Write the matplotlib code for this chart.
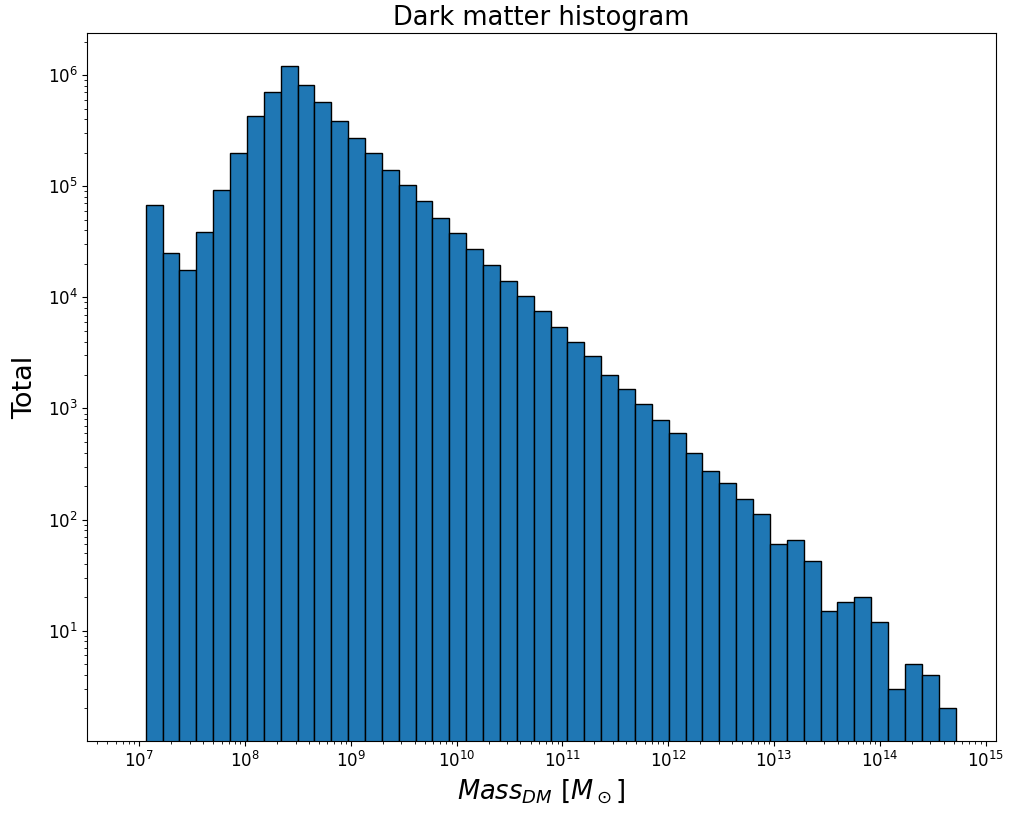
import numpy as np
import matplotlib
matplotlib.use("Agg")
import matplotlib.pyplot as plt

# masa minima / maxima (limites de los bins, log10)
LOG_MASA_MIN = 7.06
LOG_MASA_MAX = 14.716
N_BINS = 48

# cuentas por bin
conteos = [
    68000, 24800, 17600, 38400, 93000, 201000, 426000, 707000,
    1210000, 812000, 578000, 384000, 274000, 197000, 139000, 102000,
    73000, 52000, 38200, 27200, 19600, 13900, 10200, 7500,
    5400, 3980, 2940, 2020, 1490, 1090, 781, 596,
    399, 272, 215, 153, 113, 60, 66, 42,
    15, 18, 20, 12, 3, 5, 4, 2,
]

bordes = np.logspace(LOG_MASA_MIN, LOG_MASA_MAX, N_BINS + 1)
centros = np.sqrt(bordes[:-1] * bordes[1:])

fig = plt.figure(figsize=(10.10, 8.14), dpi=100)
ax = fig.add_axes([0.0864, 0.0893, 0.8996, 0.8702])

ax.hist(centros, bins=bordes, weights=conteos, log=True,
        color='#1f77b4', edgecolor='black', linewidth=1.0)
ax.set_xscale('log')
ax.set_xlim(10**6.508, 10**15.097)
ax.set_ylim(1.01, 10**6.379)

ax.set_title("Dark matter histogram", fontsize=18.5)
ax.set_xlabel(r"$Mass_{DM}\ [M_\odot]$", fontsize=18.5, labelpad=5)
ax.set_ylabel("Total", fontsize=19.5, labelpad=6.5)
ax.tick_params(axis='both', which='major', labelsize=12)

fig.savefig("out.png", dpi=100)
